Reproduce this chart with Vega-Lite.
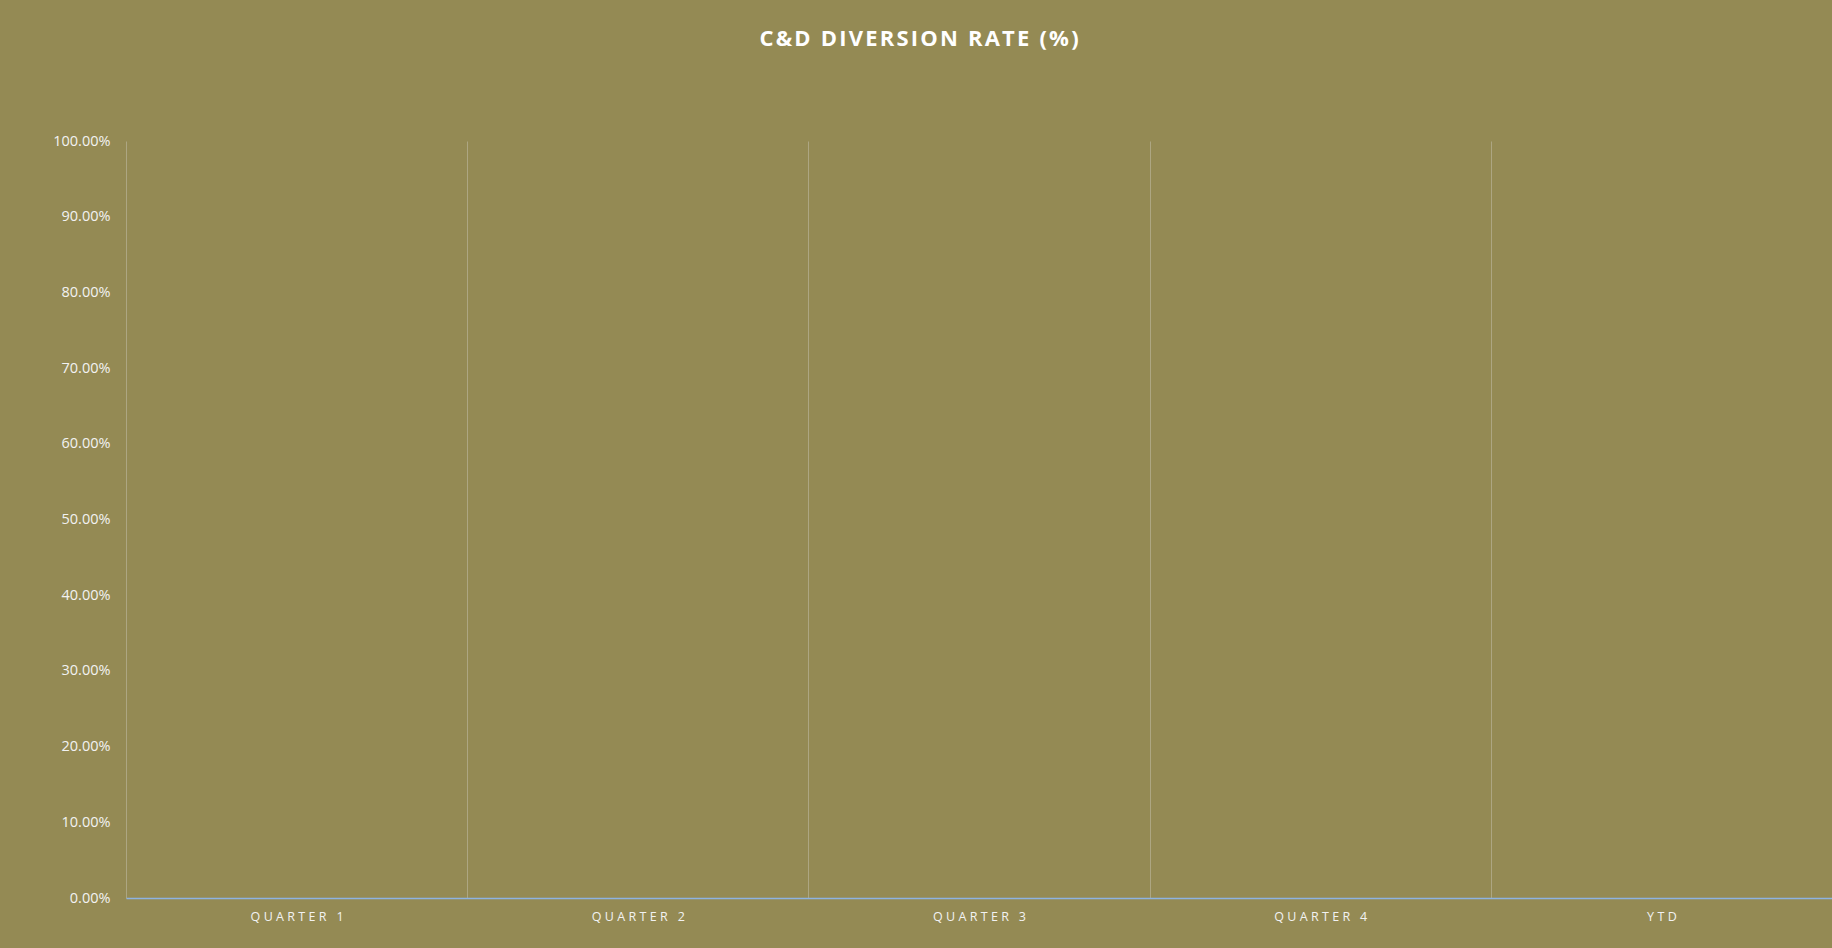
{
  "$schema": "https://vega.github.io/schema/vega-lite/v6.json",
  "width": 1706,
  "height": 757,
  "autosize": {"type": "none"},
  "padding": {"left": 126, "top": 141, "right": 0, "bottom": 50},
  "background": "#948A54",
  "title": {
    "text": {"expr": "join(split('C&D DIVERSION RATE (%)', ''), '\u200A')"},
    "font": "Open Sans",
    "fontSize": 22,
    "fontWeight": "bold",
    "color": "#FFFFFF",
    "anchor": "middle",
    "dx": -60,
    "offset": 82
  },
  "data": {
    "values": [
      {"period": "QUARTER 1", "rate": 0},
      {"period": "QUARTER 2", "rate": 0},
      {"period": "QUARTER 3", "rate": 0},
      {"period": "QUARTER 4", "rate": 0},
      {"period": "YTD", "rate": 0}
    ]
  },
  "mark": {"type": "bar", "color": "#4F81BD", "width": {"band": 0.6}},
  "encoding": {
    "x": {
      "field": "period",
      "type": "nominal",
      "sort": null,
      "scale": {"paddingInner": 0, "paddingOuter": 0},
      "axis": {
        "title": null,
        "labelAngle": 0,
        "labelExpr": "join(split(datum.label, ''), '\u2009\u200A')",
        "labelFont": "Open Sans",
        "labelFontSize": 12.5,
        "labelColor": "#F2F2F2",
        "labelPadding": 12,
        "ticks": false,
        "domainColor": "#8DB3E2",
        "domainWidth": 1.5,
        "grid": true,
        "tickBand": "extent",
        "gridColor": "#ADA682",
        "gridWidth": 1
      }
    },
    "y": {
      "field": "rate",
      "type": "quantitative",
      "scale": {"domain": [0, 1], "nice": false},
      "axis": {
        "title": null,
        "format": ".2%",
        "values": [0, 0.1, 0.2, 0.3, 0.4, 0.5, 0.6, 0.7, 0.8, 0.9, 1],
        "labelFont": "Open Sans",
        "labelFontSize": 14.5,
        "labelColor": "#F2F2F2",
        "labelPadding": 16,
        "ticks": false,
        "domain": false,
        "grid": false
      }
    }
  },
  "config": {
    "view": {"stroke": null}
  }
}
